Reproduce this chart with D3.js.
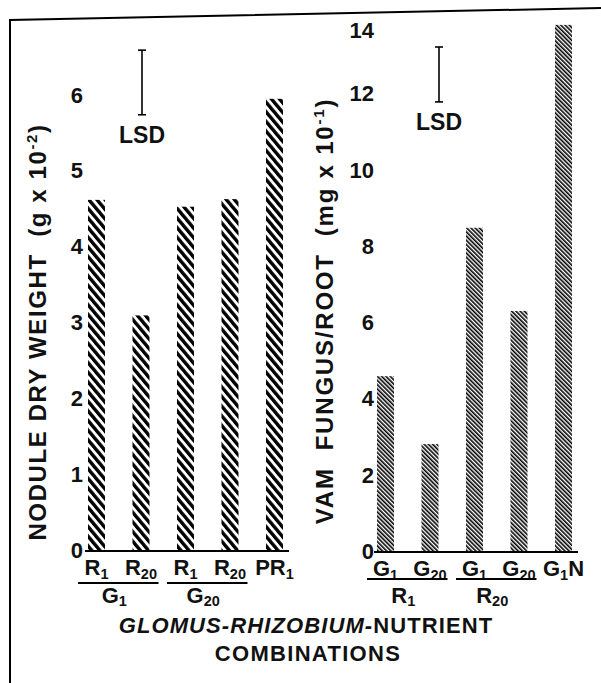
<!DOCTYPE html>
<html>
<head>
<meta charset="utf-8">
<script src="https://cdn.jsdelivr.net/npm/d3@7/dist/d3.min.js"></script>
<style>
  body { margin: 0; background: #fff; }
  text { font-family: "Liberation Sans", Arial, sans-serif; fill: #111; white-space: pre; }
</style>
</head>
<body>
<div id="chart"></div>
<script>
// Left panel: nodule dry weight (g x 10^-2)
var noduleLabels = [["R", "1"], ["R", "20"], ["R", "1"], ["R", "20"], ["PR", "1"]];
var noduleWeight = [4.62, 3.10, 4.53, 4.63, 5.95];
var noduleLSD = [5.74, 6.59];
var noduleTicks = [0, 1, 2, 3, 4, 5, 6];
var noduleGroups = [
    { name: ["G", "1"], bars: [0, 1] },
    { name: ["G", "20"], bars: [2, 3] }
];

// Right panel: VAM fungus / root (mg x 10^-1)
var vamLabels = [["G", "1"], ["G", "20"], ["G", "1"], ["G", "20"], ["G", "1", "N"]];
var vamFungus = [4.61, 2.83, 8.50, 6.32, 13.82];
var vamLSD = [11.80, 13.24];
var vamTicks = [0, 2, 4, 6, 8, 10, 12, 14];
var vamGroups = [
    { name: ["R", "1"], bars: [0, 1] },
    { name: ["R", "20"], bars: [2, 3] }
];

var W = 601, H = 683;

var svg = d3.select("#chart")
    .append("svg")
    .attr("width", W)
    .attr("height", H);

svg.append("rect").attr("width", W).attr("height", H).attr("fill", "#fff");

// hatch patterns
var defs = svg.append("defs");
var coarse = defs.append("pattern")
    .attr("id", "hatchCoarse")
    .attr("patternUnits", "userSpaceOnUse")
    .attr("width", 6.2).attr("height", 10)
    .attr("patternTransform", "rotate(-40)");
coarse.append("rect").attr("width", 3.4).attr("height", 10).attr("fill", "#000");

var fine = defs.append("pattern")
    .attr("id", "hatchFine")
    .attr("patternUnits", "userSpaceOnUse")
    .attr("width", 3).attr("height", 10)
    .attr("patternTransform", "rotate(-45)");
fine.append("rect").attr("width", 1.6).attr("height", 10).attr("fill", "#000");

// frame of the scanned figure
svg.append("path")
    .attr("d", "M10,683 L10,20 L601,8")
    .attr("fill", "none")
    .attr("stroke", "#000")
    .attr("stroke-width", 2);

// label with subscript, e.g. R + "20"
function subLabel(sel, parts, fs, drop) {
    sel.append("tspan").text(parts[0]);
    sel.append("tspan").attr("font-size", fs * 0.66).attr("dy", drop).text(parts[1]);
    if (parts[2]) {
        sel.append("tspan").attr("font-size", fs).attr("dy", -drop).text(parts[2]);
    }
}

function drawPanel(opt) {
    var x = d3.scaleBand()
        .domain(d3.range(opt.values.length))
        .range(opt.xRange)
        .paddingInner(0.618)
        .paddingOuter(0.309);

    var y = d3.scaleLinear()
        .domain(opt.yDomain)
        .range(opt.yRange);

    var g = svg.append("g");

    // bars
    g.selectAll(".bar")
        .data(opt.values)
        .enter().append("rect")
        .attr("class", "bar")
        .attr("x", function(d, i) { return x(i); })
        .attr("y", function(d) { return y(d); })
        .attr("width", x.bandwidth())
        .attr("height", function(d) { return y(0) - y(d); })
        .attr("fill", "url(#" + opt.pattern + ")");

    // baseline
    g.append("line")
        .attr("x1", x(0) - 3)
        .attr("x2", x(opt.values.length - 1) + x.bandwidth() + 6)
        .attr("y1", y(0)).attr("y2", y(0))
        .attr("stroke", "#000")
        .attr("stroke-width", 2.2);

    // tick labels (no axis line in the original)
    g.selectAll(".tick-label")
        .data(opt.ticks)
        .enter().append("text")
        .attr("class", "tick-label")
        .attr("x", opt.tickX)
        .attr("y", function(d) { return y(d); })
        .attr("dy", function(d) { return d === opt.ticks[opt.ticks.length - 1] ? opt.topTickDy : 7; })
        .attr("text-anchor", "end")
        .attr("font-size", 22)
        .attr("font-weight", "bold")
        .text(function(d) { return d; });

    // LSD bar
    var lx = opt.lsdX;
    g.append("line")
        .attr("x1", lx).attr("x2", lx)
        .attr("y1", y(opt.lsd[0])).attr("y2", y(opt.lsd[1]))
        .attr("stroke", "#000").attr("stroke-width", 1.6);
    opt.lsd.forEach(function(v) {
        g.append("line")
            .attr("x1", lx - 4).attr("x2", lx + 4)
            .attr("y1", y(v)).attr("y2", y(v))
            .attr("stroke", "#000").attr("stroke-width", 1.6);
    });
    g.append("text")
        .attr("x", lx)
        .attr("y", y(opt.lsd[0]) + 28)
        .attr("text-anchor", "middle")
        .attr("font-size", 23)
        .attr("font-weight", "bold")
        .text("LSD");

    // category labels under bars
    g.selectAll(".cat")
        .data(opt.labels)
        .enter().append("text")
        .attr("class", "cat")
        .attr("x", function(d, i) { return x(i) + x.bandwidth() / 2; })
        .attr("y", y(0) + 24)
        .attr("text-anchor", "middle")
        .attr("font-size", 22)
        .attr("font-weight", "bold")
        .each(function(d) { subLabel(d3.select(this), d, 22, 4); });

    // group lines and names
    opt.groups.forEach(function(gr) {
        var x1 = x(gr.bars[0]) - 10;
        var x2 = x(gr.bars[1]) + x.bandwidth() + 9;
        g.append("line")
            .attr("x1", x1).attr("x2", x2)
            .attr("y1", y(0) + opt.groupLineDy).attr("y2", y(0) + opt.groupLineDy)
            .attr("stroke", "#000").attr("stroke-width", 2);
        var t = g.append("text")
            .attr("x", (x1 + x2) / 2 - 4)
            .attr("y", 603)
            .attr("text-anchor", "middle")
            .attr("font-size", 22)
            .attr("font-weight", "bold");
        subLabel(t, gr.name, 22, 3);
    });

    // y axis title
    var t = g.append("text")
        .attr("transform", "translate(" + opt.titleX + "," + opt.titleY + ") rotate(-90)")
        .attr("text-anchor", "middle")
        .attr("font-size", 24)
        .attr("font-weight", "bold")
        .attr("letter-spacing", opt.titleSpacing);
    t.append("tspan").text(opt.title);
    t.append("tspan").attr("font-size", 15).attr("dy", -9).text(opt.sup);
    t.append("tspan").attr("font-size", 24).attr("dy", 9).text(")");
}

drawPanel({
    values: noduleWeight,
    labels: noduleLabels,
    groups: noduleGroups,
    ticks: noduleTicks,
    lsd: noduleLSD,
    yDomain: [0, 6],
    yRange: [551, 95],
    xRange: [74.25, 296.75],
    pattern: "hatchCoarse",
    tickX: 83,
    topTickDy: 8,
    lsdX: 142,
    groupLineDy: 32,
    title: "NODULE DRY WEIGHT  (g x 10",
    sup: "-2",
    titleX: 46,
    titleY: 332,
    titleSpacing: 1.6
});

drawPanel({
    values: vamFungus,
    labels: vamLabels,
    groups: vamGroups,
    ticks: vamTicks,
    lsd: vamLSD,
    yDomain: [0, 14],
    yRange: [552, 18],
    xRange: [363.25, 585.75],
    pattern: "hatchFine",
    tickX: 374,
    topTickDy: 20,
    lsdX: 439,
    groupLineDy: 27,
    title: "VAM  FUNGUS/ROOT  (mg x 10",
    sup: "-1",
    titleX: 333,
    titleY: 311,
    titleSpacing: 1.8
});

// bottom title
var title = svg.append("text")
    .attr("x", 306)
    .attr("y", 633)
    .attr("text-anchor", "middle")
    .attr("font-size", 22)
    .attr("font-weight", "bold")
    .attr("letter-spacing", 1.1);
title.append("tspan").attr("font-style", "italic").text("GLOMUS-RHIZOBIUM-");
title.append("tspan").text("NUTRIENT");

svg.append("text")
    .attr("x", 308)
    .attr("y", 661)
    .attr("text-anchor", "middle")
    .attr("font-size", 22)
    .attr("font-weight", "bold")
    .attr("letter-spacing", 1.3)
    .text("COMBINATIONS");
</script>
</body>
</html>
